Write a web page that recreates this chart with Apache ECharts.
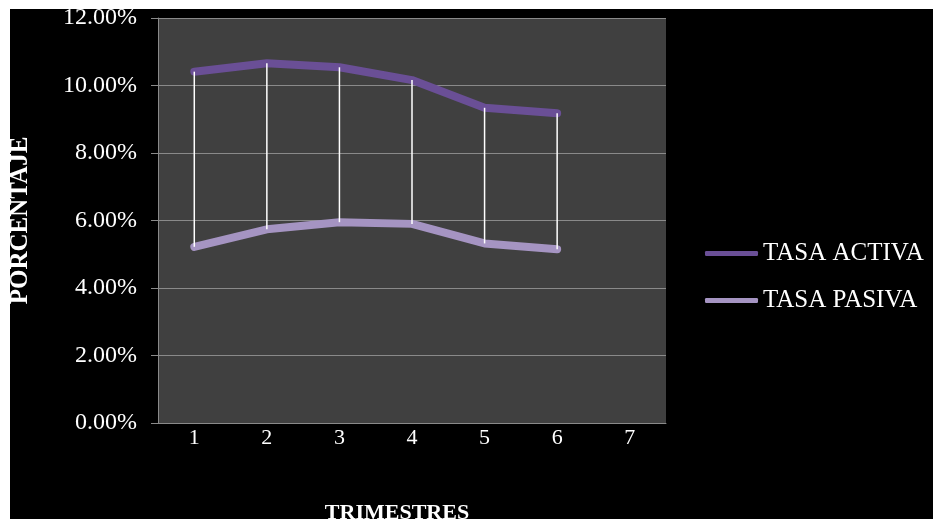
<!DOCTYPE html>
<html>
<head>
<meta charset="utf-8">
<script src="https://cdn.jsdelivr.net/npm/echarts@6/dist/echarts.min.js"></script>
<style>
html,body{margin:0;padding:0;background:#fff;width:933px;height:522px;overflow:hidden;}
#c{position:absolute;left:10px;top:9px;width:923px;height:510px;background:#000;}
</style>
</head>
<body>
<div id="c"></div>
<script>
var categories = ['1','2','3','4','5','6','7'];
var tasaActiva = [10.41, 10.66, 10.54, 10.16, 9.34, 9.18];
var tasaPasiva = [5.22, 5.74, 5.95, 5.90, 5.32, 5.15];
var yTicks = [0, 2, 4, 6, 8, 10, 12];

var rangeData = tasaActiva.map(function(v, i){ return [i, v, tasaPasiva[i]]; });
var chart = echarts.init(document.getElementById('c'), null, {renderer:'canvas'});
var font = '"Liberation Serif","Times New Roman",serif';
chart.setOption({
  backgroundColor: '#000',
  animation: false,
  textStyle: {fontFamily: font},
  grid: {left: 148, top: 9, right: 267, bottom: 96, show: true, backgroundColor: '#404040', borderWidth: 0,
         containLabel: false, outerBoundsMode: 'none'},
  legend: {
    orient: 'vertical', left: 690, top: 227,
    itemWidth: 53, itemHeight: 5, itemGap: 22,
    icon: 'roundRect',
    textStyle: {color: '#fff', fontSize: 25, fontFamily: font, padding: [0,0,0,0]},
    data: ['TASA ACTIVA', 'TASA PASIVA']
  },
  xAxis: {
    type: 'category', data: categories, boundaryGap: true,
    name: 'TRIMESTRES', nameLocation: 'middle', nameGap: 79,
    nameTextStyle: {color: '#fff', fontSize: 22, fontWeight: 'bold', fontFamily: font, padding: [0, 30, 0, 0]},
    axisLine: {lineStyle: {color: '#8a8a8a', width: 1}},
    axisTick: {show: false},
    axisLabel: {color: '#fff', fontSize: 22, margin: 4, fontFamily: font}
  },
  yAxis: {
    type: 'value', min: 0, max: 12, interval: 2,
    name: 'PORCENTAJE', nameLocation: 'middle', nameGap: 125,
    nameTextStyle: {color: '#fff', fontSize: 25, fontWeight: 'bold', fontFamily: font},
    axisLine: {show: true, lineStyle: {color: '#8a8a8a', width: 1}},
    axisTick: {show: true, length: 7, lineStyle: {color: '#8a8a8a'}},
    splitLine: {lineStyle: {color: '#8a8a8a', width: 1}},
    axisLabel: {color: '#fff', fontSize: 24, margin: 21, fontFamily: font,
      formatter: function(v){ return yTicks.indexOf(v) >= 0 ? v.toFixed(2) + '%' : ''; }}
  },
  series: [
    {name: 'TASA ACTIVA', type: 'line', data: tasaActiva, showSymbol: false, symbol: 'none',
     lineStyle: {color: '#6a4f96', width: 8, cap: 'round', join: 'round'}, itemStyle: {color: '#6a4f96'}, z: 2},
    {name: 'TASA PASIVA', type: 'line', data: tasaPasiva, showSymbol: false, symbol: 'none',
     lineStyle: {color: '#a594c2', width: 8, cap: 'round', join: 'round'}, itemStyle: {color: '#a594c2'}, z: 2},
    {type: 'custom', data: rangeData, z: 5, silent: true,
     renderItem: function(params, api){
       var p1 = api.coord([api.value(0), api.value(1)]);
       var p2 = api.coord([api.value(0), api.value(2)]);
       return {type: 'line', shape: {x1: p1[0], y1: p1[1], x2: p2[0], y2: p2[1]},
               style: {stroke: '#ffffff', lineWidth: 1.5}};
     }}
  ]
});
</script>
</body>
</html>
